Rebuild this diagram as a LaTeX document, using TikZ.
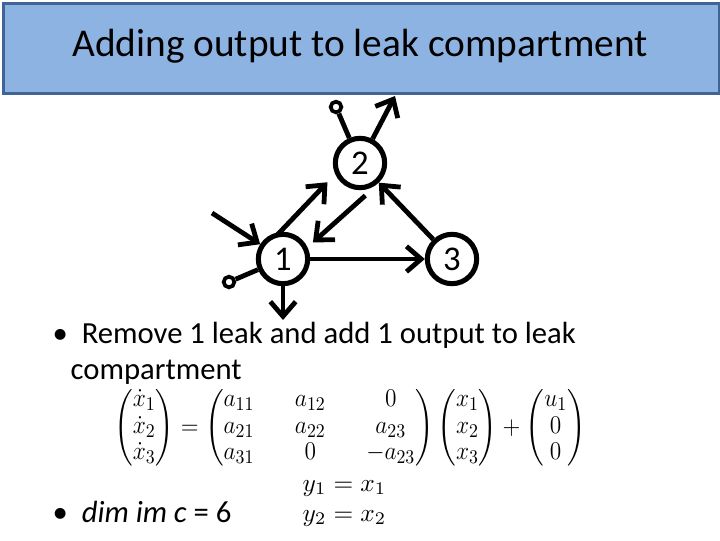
\documentclass[tikz,border=0pt]{standalone}
\usepackage{amsmath}
\usepackage{graphicx}
\usepackage{fontspec}
\setmainfont{Carlito}
\usetikzlibrary{arrows.meta}
\begin{document}
\begin{tikzpicture}[x=0.75pt,y=-0.75pt,
  comp/.style={circle,draw,line width=3.8pt,minimum size=37pt,inner sep=0pt,font=\fontsize{26}{26}\selectfont},
  flow/.style={line width=3.6pt,-{Straight Barb[length=11pt,width=19pt,line width=3.6pt]}},
  leak/.style={line width=3.6pt},
  leakend/.style={circle,draw,line width=2.8pt,minimum size=8pt,inner sep=0pt,fill=white},
  txt/.style={anchor=west,font=\fontsize{23}{23}\selectfont}]
\useasboundingbox (0,0) rectangle (720,540);
\node[draw={rgb,255:red,65;green,100;blue,150},fill={rgb,255:red,141;green,179;blue,226},line width=2pt,minimum width=716*0.75pt,minimum height=90*0.75pt,anchor=north west] (title) at (2,2) {};
\node[font=\fontsize{29.5}{30}\selectfont] (tt) at (360,46) {Adding output to leak compartment};
\node[comp] (n1) at (283,259) {1};
\node[comp] (n2) at (360,163) {2};
\node[comp] (n3) at (452,259) {3};
\node[leakend] (l2) at (336,107) {};
\node[leakend] (l1) at (229,282) {};
\coordinate (o2) at (395,96);
\coordinate (in1) at (212,213);
\coordinate (o1) at (283,320);
\draw[leak] (n2) -- (l2);
\draw[leak] (n1) -- (l1);
\draw[flow] (n2) -- (o2);
\draw[flow] (in1) -- (n1);
\draw[flow] (n1) -- (n3);
\draw[flow] (n3) -- (n2);
\draw[flow] (n1) -- (o1);
\draw[flow] ([xshift=-4pt,yshift=-2pt]n1.north) -- ([xshift=-10pt]n2.south west);
\draw[flow] ([xshift=4pt,yshift=-4pt]n2.south) -- ([xshift=8pt,yshift=-2pt]n1.north east);
\node[txt] (b1) at (48,335) {•\hspace{0.45em}Remove 1 leak and add 1 output to leak};
\node[txt] (b1b) at (66,372) {compartment};
\node[txt] (b2) at (48,512) {•\hspace{0.45em}\textit{dim im c} = 6};
\node (eq) at (350,428) {\scalebox{1.22}[1.33]{\fontsize{15}{15}\selectfont$\begin{pmatrix}\dot x_1\\ \dot x_2\\ \dot x_3\end{pmatrix}=\begin{pmatrix}a_{11} & \quad a_{12} & \quad 0\\ a_{21} & \quad a_{22} & \quad a_{23}\\ a_{31} & \quad 0 & \quad -a_{23}\end{pmatrix}\begin{pmatrix}x_1\\ x_2\\ x_3\end{pmatrix}+\begin{pmatrix}u_1\\ 0\\ 0\end{pmatrix}$}};
\node[anchor=west] (y1) at (298,488) {\scalebox{1.9}{$y_1=x_1$}};
\node[anchor=west] (y2) at (298,518) {\scalebox{1.9}{$y_2=x_2$}};
\end{tikzpicture}
\end{document}
